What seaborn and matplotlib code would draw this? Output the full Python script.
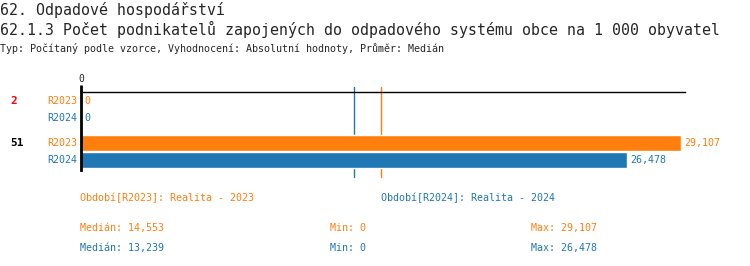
import matplotlib
matplotlib.use("Agg")
import matplotlib.pyplot as plt
import matplotlib.transforms as mtransforms
import seaborn as sns
import pandas as pd

# ---- data ----
groups = ["2", "51"]
group_colors = ["#ff0000", "#000000"]
periods = ["R2023", "R2024"]
values_r2023 = [0, 29107]
values_r2024 = [0, 26478]
period_titles = ["Období[R2023]: Realita - 2023", "Období[R2024]: Realita - 2024"]
medians = [14553, 13239]
mins = [0, 0]
maxs = [29107, 26478]
colors = ["#ff7f0e", "#1f77b4"]

title1 = "62. Odpadové hospodářství"
title2 = "62.1.3 Počet podnikatelů zapojených do odpadového systému obce na 1 000 obyvatel"
subtitle = "Typ: Počítaný podle vzorce, Vyhodnocení: Absolutní hodnoty, Průměr: Medián"

def fmt(v):
    return f"{v:,}"

rows = []
group_gap = 2.47
for gi, g in enumerate(groups):
    for pi, (p, vals) in enumerate(zip(periods, [values_r2023, values_r2024])):
        rows.append({"group": g, "period": p, "value": vals[gi], "pos": gi * group_gap + pi})
df = pd.DataFrame(rows)

sns.set_theme(style="white")
plt.rcParams["font.family"] = ["DejaVu Sans Mono", "DejaVu Sans"]

fig = plt.figure(figsize=(7.5, 2.66), dpi=100)
ax = fig.add_axes([81 / 750, 1 - 170 / 266, (685 - 81) / 750, (170 - 92) / 266])
ax.patch.set_visible(False)

sns.barplot(data=df, x="value", y="pos", hue="period", palette=colors,
            orient="h", native_scale=True, dodge=False, width=0.94,
            legend=False, saturation=1, ax=ax, zorder=2)

xmax = 29107 * 604 / 600
ax.set_xlim(0, xmax)
ax.set_ylim(4.06, -0.53)

for s in ["right", "bottom"]:
    ax.spines[s].set_visible(False)
ax.spines["top"].set_color("black")
ax.spines["top"].set_linewidth(1)
ax.spines["left"].set_color("black")
ax.spines["left"].set_linewidth(2)
ax.spines["left"].set_zorder(5)
ax.xaxis.tick_top()
ax.set_xticks([0])
ax.set_xticklabels(["0"], fontsize=7)
ax.tick_params(axis="x", length=5, width=2, color="black", pad=1)
ax.set_yticks([])
ax.set_xlabel("")
ax.set_ylabel("")

# median lines (behind bars)
for m, c in zip(medians, colors):
    ax.axvline(m, ymin=-0.09, ymax=1.064, clip_on=False, color=c, lw=1, zorder=1)

# labels
trans = mtransforms.blended_transform_factory(ax.transAxes, ax.transData)
for _, r in df.iterrows():
    c = colors[periods.index(r["period"])]
    ax.text(-0.007, r["pos"], r["period"], transform=trans, ha="right", va="center",
            color=c, fontsize=7.2)
    ax.annotate(fmt(r["value"]), xy=(r["value"], r["pos"]), xytext=(2.5, 0),
                textcoords="offset points", ha="left", va="center", color=c,
                fontsize=7.2, annotation_clip=False)

gtrans = mtransforms.blended_transform_factory(fig.transFigure, ax.transData)
for gi, (g, gc) in enumerate(zip(groups, group_colors)):
    ax.text(10 / 750, gi * group_gap, g, color=gc, fontsize=8, fontweight="bold",
            ha="left", va="center", transform=gtrans)

# titles
fig.text(0, 1 - 10 / 266, title1, fontsize=10.75, ha="left", va="center")
fig.text(0, 1 - 29 / 266, title2, fontsize=10.75, ha="left", va="center")
fig.text(0, 1 - 48 / 266, subtitle, fontsize=7.2, ha="left", va="center")

# footer
fs = 7.2
fig.text(80 / 750, 1 - 198 / 266, period_titles[0], color=colors[0], fontsize=fs, ha="left", va="center")
fig.text(381 / 750, 1 - 198 / 266, period_titles[1], color=colors[1], fontsize=fs, ha="left", va="center")
for i, (med, mn, mx, c) in enumerate(zip(medians, mins, maxs, colors)):
    y = 1 - (228 + 20 * i) / 266
    fig.text(80 / 750, y, f"Medián: {fmt(med)}", color=c, fontsize=fs, ha="left", va="center")
    fig.text(330 / 750, y, f"Min: {fmt(mn)}", color=c, fontsize=fs, ha="left", va="center")
    fig.text(531 / 750, y, f"Max: {fmt(mx)}", color=c, fontsize=fs, ha="left", va="center")

fig.savefig("out.png", dpi=100)
